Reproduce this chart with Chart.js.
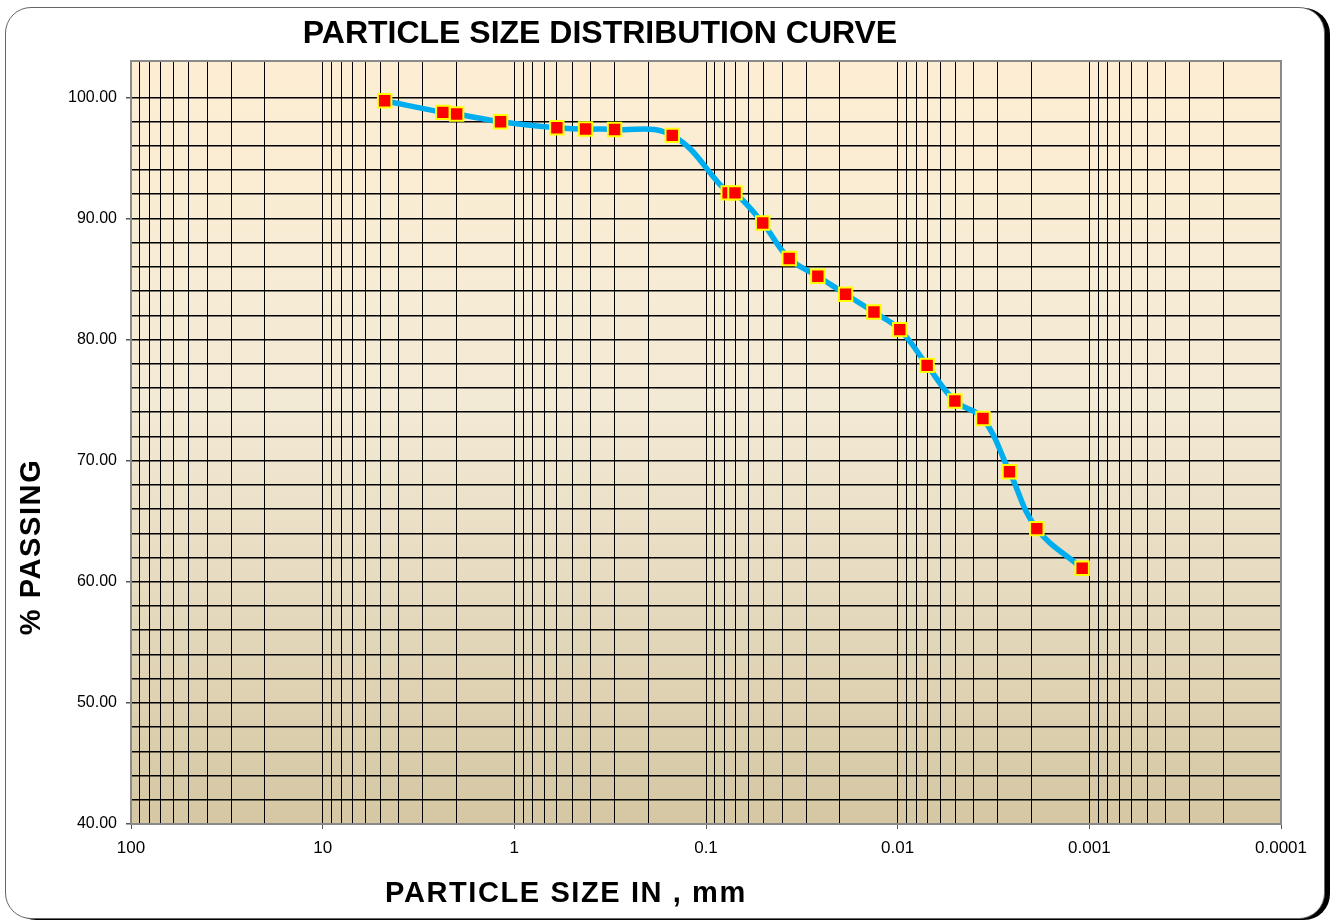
<!DOCTYPE html>
<html>
<head>
<meta charset="utf-8">
<title>Particle Size Distribution Curve</title>
<script src="https://cdn.jsdelivr.net/npm/chart.js@4.4.1/dist/chart.umd.min.js"></script>
<style>
  body { margin: 0; background: #fff; }
  #wrap { position: relative; width: 1335px; height: 922px; }
  #frame {
    position: absolute; left: 5px; top: 7px; width: 1318px; height: 910px;
    border: 1.5px solid #666; border-radius: 26px;
    box-shadow: 5px 1px 0 #000;
    background: #fff;
  }
  #gsd { position: absolute; left: 0; top: 0; }
</style>
</head>
<body>
<div id="wrap">
  <div id="frame"></div>
  <canvas id="gsd" width="1335" height="922"></canvas>
</div>
<script>
console.log('connected')

// sieve + hydrometer results: particle size (mm) and percent passing
const sizes = [4.75, 2.36, 2.0, 1.18, 0.6, 0.425, 0.3, 0.15, 0.0766, 0.0706,
  0.0506, 0.0368, 0.0261, 0.0187, 0.0133, 0.00975, 0.00702, 0.00503,
  0.00359, 0.00261, 0.00188, 0.00109];
const passing = [99.72, 98.76, 98.62, 97.98, 97.49, 97.38, 97.35, 96.86, 92.11, 92.11,
  89.63, 86.69, 85.23, 83.74, 82.27, 80.82, 77.87, 74.93,
  73.48, 69.08, 64.39, 61.11];

// axis labels
const decades = [100, 10, 1, 0.1, 0.01, 0.001, 0.0001];
const passingLabels = [40, 50, 60, 70, 80, 90, 100];

const FONT = '"Liberation Sans", Arial, sans-serif';

function isDecade(v) {
  return decades.some(d => Math.abs(v - d) / d < 1e-6);
}

// gradient fill behind the grid, gray frame around it, and the titles
const paperPlugin = {
  id: 'paper',
  beforeDraw(chart) {
    const { ctx, chartArea: a } = chart;
    const g = ctx.createLinearGradient(0, a.top, 0, a.bottom);
    g.addColorStop(0, '#FDEED3');
    g.addColorStop(0.45, '#F3EAD5');
    g.addColorStop(1, '#D5C7A3');
    ctx.save();
    ctx.fillStyle = g;
    ctx.fillRect(a.left, a.top, a.right - a.left, a.bottom - a.top);
    ctx.restore();
  },
  beforeDatasetsDraw(chart) {
    const { ctx, chartArea: a } = chart;
    ctx.save();
    ctx.strokeStyle = '#8a8a8a';
    ctx.lineWidth = 2;
    ctx.strokeRect(a.left, a.top, a.right - a.left, a.bottom - a.top);
    ctx.restore();
  },
  afterDraw(chart) {
    const { ctx } = chart;
    ctx.save();
    ctx.fillStyle = '#000';
    ctx.textBaseline = 'alphabetic';
    ctx.textAlign = 'center';
    ctx.font = 'bold 32px ' + FONT;
    ctx.fillText('PARTICLE SIZE DISTRIBUTION CURVE', 600, 43);
    ctx.font = 'bold 29px ' + FONT;
    ctx.letterSpacing = '1.6px';
    ctx.fillText('PARTICLE SIZE IN , mm', 566, 902);
    ctx.translate(40, 547);
    ctx.rotate(-Math.PI / 2);
    ctx.fillText('% PASSING', 0, 0);
    ctx.restore();
  }
};

const ctx = document.getElementById('gsd').getContext('2d');
new Chart(ctx, {
  type: 'scatter',
  data: {
    datasets: [{
      data: sizes.map((s, i) => ({ x: s, y: passing[i] })),
      showLine: true,
      borderColor: '#00AEEF',
      borderWidth: 5.5,
      tension: 0.4,
      pointStyle: 'rect',
      pointRadius: 9.5,
      pointHoverRadius: 9.5,
      pointBackgroundColor: '#FF0000',
      pointBorderColor: '#FFFF00',
      pointBorderWidth: 2
    }]
  },
  options: {
    responsive: false,
    devicePixelRatio: 1,
    animation: false,
    events: [],
    layout: { padding: { top: 61, right: 54, left: 0, bottom: 0 } },
    plugins: { legend: { display: false }, tooltip: { enabled: false } },
    scales: {
      x: {
        type: 'logarithmic',
        reverse: true,
        min: 0.0001,
        max: 100,
        afterBuildTicks(scale) {
          const t = [];
          decades.forEach(d => {
            for (let k = 1; k <= 9; k++) {
              const v = d * k;
              if (v <= 100) t.push({ value: v });
            }
          });
          t.sort((a, b) => a.value - b.value);
          scale.ticks = t;
        },
        afterFit(scale) { scale.height = 98; },
        border: { display: true, color: '#8a8a8a', width: 2 },
        grid: {
          color: '#000',
          lineWidth: 1,
          tickLength: 5,
          tickColor: c => (c.tick && isDecade(c.tick.value)) ? '#555' : 'rgba(0,0,0,0)'
        },
        ticks: {
          autoSkip: false,
          maxRotation: 0,
          padding: 9,
          color: '#000',
          font: { family: FONT, size: 17 },
          callback: v => isDecade(v) ? String(decades.find(d => Math.abs(v - d) / d < 1e-6)) : ''
        }
      },
      y: {
        min: 40,
        max: 103,
        afterFit(scale) { scale.width = 131; },
        border: { display: true, color: '#8a8a8a', width: 2 },
        grid: {
          color: '#000',
          lineWidth: 1.5,
          tickLength: 5,
          tickColor: c => (c.tick && passingLabels.includes(c.tick.value)) ? '#555' : 'rgba(0,0,0,0)'
        },
        ticks: {
          stepSize: 2,
          autoSkip: false,
          padding: 9,
          color: '#000',
          font: { family: FONT, size: 16 },
          callback: v => passingLabels.includes(v) ? v.toFixed(2) : ''
        }
      }
    }
  },
  plugins: [paperPlugin]
});
</script>
</body>
</html>
